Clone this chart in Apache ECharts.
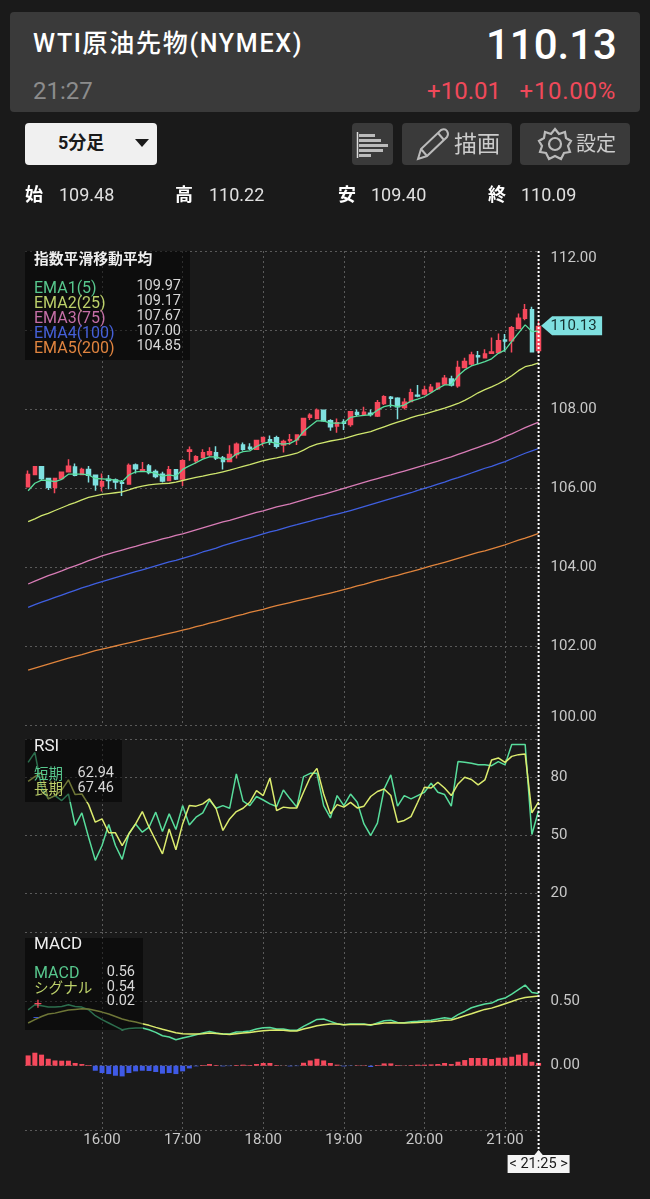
<!DOCTYPE html>
<html>
<head>
<meta charset="utf-8">
<script src="https://cdn.jsdelivr.net/npm/echarts@6/dist/echarts.min.js"></script>
<style>
  html, body { margin: 0; background: #1a1a1a; }
  body { width: 650px; height: 1199px; position: relative; overflow: hidden;
         font-family: Roboto, "Noto Sans CJK JP", sans-serif; color: #fff; }
  #container { position: absolute; left: 0; top: 0; width: 650px; height: 1199px; }
  .box { position: absolute; border-radius: 4px; background: #3a3a3a; }
  .t { position: absolute; white-space: nowrap; line-height: 1; }
</style>
</head>
<body>
<div id="container"></div>

<div class="box" style="left:10px;top:12px;width:630px;height:100px"></div>
<div class="t" style="left:33px;top:31px;font-size:25px;font-weight:500;letter-spacing:1.7px">WTI原油先物(NYMEX)</div>
<div class="t" style="right:33px;top:24px;font-size:42px;font-weight:500">110.13</div>
<div class="t" style="left:33px;top:79px;font-size:24px;color:#8c8c8c">21:27</div>
<div class="t" style="right:149px;top:79px;font-size:24px;color:#f0495a">+10.01</div>
<div class="t" style="right:34px;top:79px;font-size:24px;color:#f0495a;letter-spacing:.7px">+10.00%</div>

<div class="box" style="left:25px;top:123px;width:132px;height:42px;background:#f0f0f0"></div>
<div class="t" style="left:58px;top:134px;font-size:18px;font-weight:700;color:#1a1a1a">5分足</div>
<div class="box" style="left:352px;top:123px;width:41px;height:42px"></div>
<div class="box" style="left:402px;top:123px;width:110px;height:42px"></div>
<div class="box" style="left:520px;top:123px;width:110px;height:42px"></div>
<div class="t" style="left:454px;top:133px;font-size:23px;color:#ccc">描画</div>
<div class="t" style="left:576px;top:134px;font-size:20px;color:#ccc">設定</div>

<svg style="position:absolute;left:0;top:0" width="650" height="200">
  <path d="M135 139 L149 139 L142 147 Z" fill="#1a1a1a"/>
  <path d="M357.5 132 V158" stroke="#ddd" stroke-width="1.5"/>
  <g fill="#bbb">
    <rect x="359" y="134" width="16" height="3"/><rect x="359" y="139" width="22" height="3"/>
    <rect x="359" y="144" width="29" height="3"/><rect x="359" y="149" width="24" height="3"/>
    <rect x="359" y="154" width="12" height="3"/>
  </g>
  <path d="M418 159 L421 149 L441 130 Q445 128 447 131 Q449 134 447 137 L427 156 Z M421 149 L427 156 M438 133 L444 140" fill="none" stroke="#bbb" stroke-width="2"/>
  <g fill="none" stroke="#bbb" stroke-width="2.2">
    <path d="M555 129 L559 134 L565 132 L566 138 L571 141 L568 146 L570 152 L564 153 L561 159 L555 156 L549 159 L546 153 L540 152 L542 146 L539 141 L544 138 L545 132 L551 134 Z"/>
    <circle cx="555" cy="144" r="6"/>
  </g>
</svg>

<div class="t" style="left:25px;top:186px;font-size:18px;font-weight:700">始</div>
<div class="t" style="left:59px;top:186px;font-size:18px;color:#e0e0e0">109.48</div>
<div class="t" style="left:175px;top:186px;font-size:18px;font-weight:700">高</div>
<div class="t" style="left:209px;top:186px;font-size:18px;color:#e0e0e0">110.22</div>
<div class="t" style="left:338px;top:186px;font-size:18px;font-weight:700">安</div>
<div class="t" style="left:371px;top:186px;font-size:18px;color:#e0e0e0">109.40</div>
<div class="t" style="left:488px;top:186px;font-size:18px;font-weight:700">終</div>
<div class="t" style="left:521px;top:186px;font-size:18px;color:#e0e0e0">110.09</div>

<script type="text/javascript">
// 5 minute bars, 15:05 to 21:25
var hourLabels = ['16:00', '17:00', '18:00', '19:00', '20:00', '21:00'];

var opens = [106.03,106.34,106.54,106.24,106.02,106.24,106.41,106.53,106.34,106.47,106.32,106.05,106.22,106.20,106.13,106.10,106.58,106.43,106.56,106.42,106.35,106.19,106.46,106.23,
  106.93,106.69,106.77,106.84,106.89,106.76,106.67,106.85,107.09,107.03,106.98,107.17,107.22,107.27,107.09,107.20,107.22,107.34,107.79,107.76,107.97,107.70,107.57,107.67,107.61,107.91,107.87,107.89,
  107.82,108.14,108.30,108.27,108.04,108.19,108.35,108.38,108.44,108.51,108.63,108.76,108.59,109.05,109.14,109.35,109.30,109.41,109.43,109.75,109.73,110.04,110.30,110.51,109.48];
var closes = [106.34,106.54,106.24,106.02,106.24,106.40,106.55,106.32,106.47,106.32,106.08,106.16,106.19,106.15,106.12,106.57,106.49,106.46,106.39,106.29,106.18,106.46,106.23,106.69,
  106.96,106.79,106.89,106.92,106.76,106.67,106.85,107.11,106.98,107.00,107.20,107.28,107.17,107.06,107.18,107.22,107.34,107.76,107.84,107.97,107.70,107.55,107.65,107.64,107.93,107.87,107.92,107.86,
  108.16,108.31,108.27,108.06,108.17,108.41,108.33,108.48,108.55,108.65,108.78,108.61,109.05,109.20,109.37,109.32,109.39,109.44,109.73,109.72,110.06,110.30,110.51,109.45,110.09];
var lows = [106.02,106.34,106.20,105.95,105.87,106.20,106.41,106.30,106.34,106.14,105.93,105.91,105.97,105.97,105.80,106.10,106.37,106.41,106.35,106.25,106.14,106.17,106.20,106.05,
  106.69,106.62,106.75,106.79,106.71,106.47,106.66,106.75,106.94,106.96,106.96,107.06,107.09,107.00,106.90,107.09,107.09,107.32,107.72,107.74,107.68,107.45,107.40,107.47,107.55,107.82,107.82,107.81,
  107.80,108.10,108.04,107.74,107.99,108.17,108.30,108.35,108.41,108.48,108.61,108.57,108.54,109.03,109.09,109.14,109.28,109.39,109.41,109.45,109.43,110.03,110.25,109.45,109.40];
var highs = [106.44,106.54,106.54,106.24,106.24,106.42,106.73,106.62,106.51,106.56,106.32,106.37,106.33,106.24,106.20,106.62,106.62,106.66,106.61,106.47,106.41,106.56,106.48,106.73,
  107.05,106.83,106.98,107.03,107.06,106.81,107.08,107.15,107.15,107.13,107.22,107.30,107.33,107.32,107.22,107.37,107.36,107.78,107.89,108.01,107.99,107.74,107.76,107.74,107.95,107.99,108.06,107.99,
  108.23,108.35,108.33,108.30,108.27,108.51,108.61,108.59,108.63,108.67,108.86,108.84,109.22,109.30,109.45,109.47,109.51,109.81,109.91,109.90,110.10,110.42,110.66,110.59,110.22];

var ema1 = [105.93,106.12,106.20,106.19,106.16,106.22,106.35,106.35,106.35,106.33,106.24,106.23,106.22,106.20,106.16,106.33,106.41,106.42,106.41,106.37,106.30,106.33,106.30,106.47,
  106.56,106.64,106.73,106.79,106.79,106.73,106.73,106.86,106.92,106.94,107.05,107.13,107.17,107.13,107.11,107.13,107.22,107.43,107.57,107.70,107.70,107.64,107.64,107.65,107.79,107.82,107.84,107.85,
  107.97,108.06,108.10,108.06,108.10,108.20,108.25,108.31,108.41,108.52,108.61,108.61,108.84,108.99,109.09,109.14,109.20,109.27,109.41,109.49,109.71,109.92,110.13,109.96,109.97];
var ema2 = [105.15,105.22,105.30,105.36,105.43,105.50,105.57,105.63,105.70,105.76,105.80,105.84,105.86,105.88,105.90,105.95,106.01,106.05,106.08,106.10,106.11,106.12,106.15,106.19,
  106.23,106.27,106.30,106.34,106.37,106.41,106.45,106.50,106.55,106.59,106.64,106.69,106.73,106.76,106.80,106.84,106.88,106.96,107.05,107.11,107.15,107.19,107.22,107.25,107.30,107.35,107.39,107.43,
  107.49,107.55,107.61,107.67,107.72,107.78,107.83,107.87,107.92,107.97,108.02,108.08,108.14,108.22,108.31,108.41,108.49,108.56,108.64,108.73,108.84,108.97,109.07,109.11,109.17];
var ema3 = [103.57,103.64,103.71,103.78,103.84,103.90,103.97,104.03,104.09,104.16,104.22,104.28,104.33,104.38,104.43,104.48,104.52,104.57,104.62,104.66,104.71,104.75,104.80,104.84,
  104.89,104.94,104.99,105.04,105.09,105.14,105.18,105.23,105.28,105.33,105.38,105.42,105.47,105.52,105.56,105.60,105.65,105.70,105.75,105.80,105.84,105.89,105.94,105.99,106.04,106.09,106.14,106.19,
  106.24,106.29,106.33,106.38,106.43,106.48,106.53,106.58,106.63,106.68,106.74,106.79,106.85,106.91,106.97,107.03,107.09,107.15,107.22,107.30,107.37,107.45,107.53,107.60,107.67];
var ema4 = [102.98,103.05,103.11,103.17,103.23,103.29,103.35,103.41,103.47,103.52,103.58,103.63,103.68,103.73,103.78,103.83,103.88,103.93,103.98,104.03,104.08,104.13,104.17,104.22,
  104.27,104.32,104.38,104.43,104.48,104.54,104.59,104.64,104.69,104.74,104.79,104.84,104.89,104.93,104.98,105.03,105.07,105.12,105.16,105.21,105.25,105.30,105.34,105.38,105.43,105.48,105.53,105.58,
  105.63,105.68,105.73,105.78,105.83,105.88,105.94,105.99,106.04,106.10,106.15,106.21,106.26,106.32,106.38,106.44,106.50,106.55,106.61,106.67,106.74,106.81,106.88,106.94,107.00];
var ema5 = [101.39,101.44,101.49,101.54,101.59,101.64,101.69,101.74,101.78,101.83,101.88,101.92,101.96,102.00,102.04,102.08,102.12,102.16,102.20,102.24,102.28,102.32,102.36,102.40,
  102.44,102.49,102.53,102.58,102.62,102.67,102.71,102.76,102.80,102.85,102.89,102.93,102.98,103.02,103.06,103.10,103.14,103.18,103.22,103.26,103.30,103.34,103.38,103.43,103.47,103.52,103.56,103.61,
  103.66,103.70,103.75,103.79,103.84,103.88,103.93,103.98,104.03,104.07,104.12,104.17,104.22,104.27,104.32,104.37,104.41,104.46,104.51,104.56,104.62,104.68,104.73,104.79,104.85];

var rsiShort = [87.9,93.1,75.0,69.0,70.7,68.1,71.5,55.2,61.7,49.1,37.1,44.8,55.7,44.8,37.6,50.9,56.0,51.7,54.3,62.1,52.1,61.2,53.1,65.5,
  55.5,59.5,61.7,68.4,64.1,65.5,64.1,81.9,67.8,65.5,70.2,68.4,66.4,65.0,73.6,69.0,64.7,80.5,82.2,82.2,65.5,59.1,70.7,65.5,71.5,67.2,56.0,50.0,
  56.4,74.1,81.4,65.2,70.7,69.0,70.7,72.4,77.1,72.4,71.2,65.2,88.3,87.9,87.4,86.7,86.7,86.2,88.3,86.6,97.1,97.1,97.1,50.5,62.94];
var rsiLong = [78.1,80.5,82.7,69.0,70.7,73.6,78.8,71.2,71.5,66.0,56.9,58.6,51.4,51.4,44.8,50.9,56.0,62.4,54.3,47.4,40.5,53.4,42.6,56.0,
  65.5,65.2,66.4,69.0,63.8,52.6,58.6,62.4,64.1,67.2,73.3,70.7,79.8,62.9,64.7,64.3,64.3,72.4,80.2,84.8,71.5,61.2,66.0,64.7,67.2,64.3,65.2,70.2,
  72.8,74.1,70.7,56.9,57.8,59.8,67.2,75.0,74.6,77.6,74.6,70.7,76.7,80.2,79.0,76.2,78.8,89.1,90.2,87.9,91.0,91.9,92.2,61.7,67.46];

var macdLine = [.435,.474,.467,.456,.456,.461,.474,.461,.456,.435,.389,.358,.332,.306,.280,.290,.293,.293,.280,.259,.233,.223,.202,.215,
  .228,.241,.254,.267,.254,.246,.246,.262,.264,.270,.285,.295,.298,.285,.285,.275,.275,.306,.332,.360,.363,.345,.327,.319,.324,.324,.324,.314,
  .332,.350,.353,.337,.334,.342,.345,.350,.353,.363,.373,.365,.397,.422,.451,.467,.480,.487,.513,.526,.557,.591,.627,.570,.562];
var signalLine = [.332,.358,.383,.402,.409,.422,.433,.438,.443,.441,.430,.417,.402,.383,.363,.350,.340,.327,.314,.298,.283,.270,.257,.249,
  .246,.246,.249,.254,.251,.246,.243,.249,.254,.259,.267,.272,.275,.277,.275,.270,.270,.285,.298,.311,.319,.324,.324,.319,.321,.321,.321,.319,
  .324,.332,.334,.332,.332,.334,.337,.340,.342,.347,.353,.355,.371,.389,.404,.422,.438,.448,.464,.482,.500,.518,.531,.537,.542];
var macdHist = [.080,.101,.086,.054,.041,.039,.039,.021,.013,.005,-.039,-.057,-.065,-.078,-.083,-.057,-.044,-.039,-.041,-.049,-.062,-.057,-.065,-.044,
  -.021,-.005,.005,.013,.005,-.005,-.003,.005,.008,.005,.013,.021,.021,.005,.001,-.005,-.003,.023,.041,.054,.041,.021,.008,-.005,-.002,.003,.003,-.010,
  .005,.018,.018,.005,.002,.005,.008,.008,.010,.013,.021,.013,.031,.044,.060,.060,.060,.052,.062,.062,.070,.086,.098,.031,.021];

var priceTicks = [100, 102, 104, 106, 108, 110, 112];
var rsiLines = [0, 20, 50, 80, 100];
var rsiLabels = [20, 50, 80];
var macdLines = [-0.5, 0, 0.5];
var macdLabels = [0, 0.5];
var lastPrice = 110.13;

var FONT = 'Roboto, "Noto Sans CJK JP", sans-serif';
var UP = '#f6495c', DOWN = '#7fe0e0';
var C1 = '#58dd9c', C2 = '#cfe66e', C3 = '#d87cb6', C4 = '#3f5fe0', C5 = '#e0843c';

// x axis runs in minutes of the day
function toMinutes(hhmm) {
    var p = hhmm.split(':');
    return +p[0] * 60 + +p[1];
}
function pad(n) { return (n < 10 ? '0' : '') + n; }
function minutesLabel(m) {
    return pad(Math.floor(m / 60)) + ':' + pad(m % 60);
}

var times = [];
for (var i = 0; i < opens.length; i++) {
    times.push(toMinutes('15:05') + i * 5);
}
var lastTime = times[times.length - 1];
var hourTicks = hourLabels.map(toMinutes);

function pairs(values) {
    return values.map(function (v, i) { return [times[i], v]; });
}
function lineSeries(name, values, color, gridIndex, width) {
    return {
        name: name, type: 'line', xAxisIndex: gridIndex, yAxisIndex: gridIndex,
        data: pairs(values), showSymbol: false, silent: true,
        lineStyle: { color: color, width: width || 1.5 }
    };
}

var dotted = { color: '#5a5a5a', width: 1, type: [2, 3] };
var grids = [
    { left: 25, right: 111.4, top: 251, height: 474 },
    { left: 25, right: 111.4, top: 739, height: 193 },
    { left: 25, right: 111.4, top: 932, height: 198 }
];

function xAxis(gridIndex, showLabel) {
    return {
        type: 'value', gridIndex: gridIndex,
        min: toMinutes('15:02') + 0.67, max: lastTime,
        axisLine: { show: false },
        axisTick: { show: false, customValues: hourTicks },
        splitLine: { show: true, lineStyle: dotted },
        axisLabel: {
            show: showLabel, customValues: hourTicks, margin: 3,
            color: '#c8c8c8', fontSize: 15, fontFamily: FONT, hideOverlap: false,
            formatter: function (v) { return minutesLabel(v); }
        }
    };
}
function yAxis(gridIndex, min, max, lines, labels, format) {
    return {
        type: 'value', gridIndex: gridIndex, position: 'right', min: min, max: max, scale: true,
        axisLine: { show: false },
        axisTick: { show: false, customValues: lines },
        splitLine: { show: true, lineStyle: dotted },
        axisLabel: {
            customValues: labels, margin: 12, color: '#c8c8c8', fontSize: 15, fontFamily: FONT,
            formatter: format
        }
    };
}

var priceAxis = yAxis(0, 100, 112, priceTicks, priceTicks.filter(function (v) { return v !== 110; }),
    function (v) { return v.toFixed(2); });
// the end labels of the price axis stay inside the panel, the 110.00 one sits under the tag
priceAxis.axisLabel.verticalAlignMinLabel = 'bottom';
priceAxis.axisLabel.verticalAlignMaxLabel = 'top';

var option = {
    animation: false,
    backgroundColor: '#1a1a1a',
    textStyle: { fontFamily: FONT },
    grid: grids,
    xAxis: [xAxis(0, false), xAxis(1, false), xAxis(2, true)],
    yAxis: [
        priceAxis,
        yAxis(1, 0, 100, rsiLines, rsiLabels, function (v) { return '' + v; }),
        yAxis(2, -0.5, 1.04, macdLines, macdLabels, function (v) { return v.toFixed(2); })
    ],
    series: [
        {
            name: 'WTI', type: 'candlestick', xAxisIndex: 0, yAxisIndex: 0, clip: false, silent: true,
            barWidth: 4,
            data: times.map(function (t, i) { return [t, opens[i], closes[i], lows[i], highs[i]]; }),
            itemStyle: { color: UP, color0: DOWN, borderColor: UP, borderColor0: DOWN, borderWidth: 1.5 },
            markPoint: {
                silent: true, animation: false,
                symbol: 'path://M0 9.5 L11 0 L61 0 L61 19 L11 19 Z',
                symbolSize: [61, 19], symbolOffset: [33, 1],
                itemStyle: { color: DOWN },
                label: {
                    show: true, position: 'inside', offset: [2, 0], color: '#16302f',
                    fontSize: 15, fontFamily: FONT,
                    formatter: function () { return lastPrice.toFixed(2); }
                },
                data: [{ coord: [lastTime, lastPrice] }]
            }
        },
        lineSeries('EMA5', ema5, C5, 0, 1.3),
        lineSeries('EMA4', ema4, C4, 0, 1.3),
        lineSeries('EMA3', ema3, C3, 0, 1.3),
        lineSeries('EMA2', ema2, C2, 0, 1.3),
        lineSeries('EMA1', ema1, C1, 0, 1.3),
        lineSeries('短期', rsiShort, C1, 1),
        lineSeries('長期', rsiLong, '#dcec6e', 1),
        {
            name: 'hist', type: 'bar', xAxisIndex: 2, yAxisIndex: 2, clip: false, silent: true, barWidth: 5,
            data: pairs(macdHist),
            itemStyle: { color: function (p) { return p.value[1] >= 0 ? UP : '#3f5ae6'; } }
        },
        lineSeries('MACD', macdLine, C1, 2),
        lineSeries('シグナル', signalLine, '#dcec6e', 2)
    ]
};

var myChart = echarts.init(document.getElementById('container'));
myChart.setOption(option);

// overlays: legend boxes sit above the lines, the cursor runs through all panels
function txt(text, x, y, fill, size, align, weight) {
    return {
        type: 'text', z: 104,
        style: {
            text: text, x: x, y: y, fill: fill, textAlign: align || 'left', textVerticalAlign: 'middle',
            font: (weight || 'normal') + ' ' + size + 'px ' + FONT
        }
    };
}
function panel(x, y, w, h) {
    return { type: 'rect', z: 100, shape: { x: x, y: y, width: w, height: h }, style: { fill: 'rgba(0,0,0,0.5)' } };
}

var cursorX = myChart.convertToPixel({ xAxisIndex: 0 }, lastTime);
var VAL = '#d8d8d8';
myChart.setOption({
    graphic: { elements: [
        panel(25, 251, 165, 109),
        txt('指数平滑移動平均', 34, 260, '#eee', 14.8, 'left', 'bold'),
        txt('EMA1(5)', 34, 289, '#57c78d', 16), txt('109.97', 181, 286, VAL, 14.5, 'right'),
        txt('EMA2(25)', 34, 304, '#bcd06a', 16), txt('109.17', 181, 301, VAL, 14.5, 'right'),
        txt('EMA3(75)', 34, 319, '#c56fa7', 16), txt('107.67', 181, 316, VAL, 14.5, 'right'),
        txt('EMA4(100)', 34, 334, '#4560d8', 16), txt('107.00', 181, 331, VAL, 14.5, 'right'),
        txt('EMA5(200)', 34, 349, '#e0843f', 16), txt('104.85', 181, 346, VAL, 14.5, 'right'),

        panel(25, 739, 97, 63),
        txt('RSI', 34, 747, '#eee', 17),
        txt('短期', 34, 775, '#57c78d', 14.5), txt('62.94', 114, 773, VAL, 14.5, 'right'),
        txt('長期', 34, 790, '#bcd06a', 14.5), txt('67.46', 114, 788, VAL, 14.5, 'right'),

        panel(25, 938, 118, 92),
        txt('MACD', 34, 945, '#eee', 17),
        txt('MACD', 34, 974, '#57c78d', 16), txt('0.56', 135, 972, VAL, 14.5, 'right'),
        txt('シグナル', 34, 989, '#bcd06a', 14.6), txt('0.54', 135, 987, VAL, 14.5, 'right'),
        txt('0.02', 135, 1001, VAL, 14.5, 'right'),
        txt('+', 38, 1005, UP, 14, 'center'),
        txt('−', 36, 1019, '#3f5ae6', 12, 'center'),

        {
            type: 'line', z: 102,
            shape: { x1: cursorX, y1: 251, x2: cursorX, y2: 1155 },
            style: { stroke: '#fff', lineWidth: 2, lineDash: [2, 2] }
        },
        { type: 'polygon', z: 103, shape: { points: [[cursorX - 5, 1156], [cursorX, 1150], [cursorX + 5, 1156]] }, style: { fill: '#f4f4f4' } },
        { type: 'rect', z: 103, shape: { x: cursorX - 31, y: 1155, width: 62, height: 18 }, style: { fill: '#f4f4f4' } },
        txt('< 21:25 >', cursorX, 1164.5, '#1a1a1a', 14.5, 'center')
    ] }
});
</script>
</body>
</html>
